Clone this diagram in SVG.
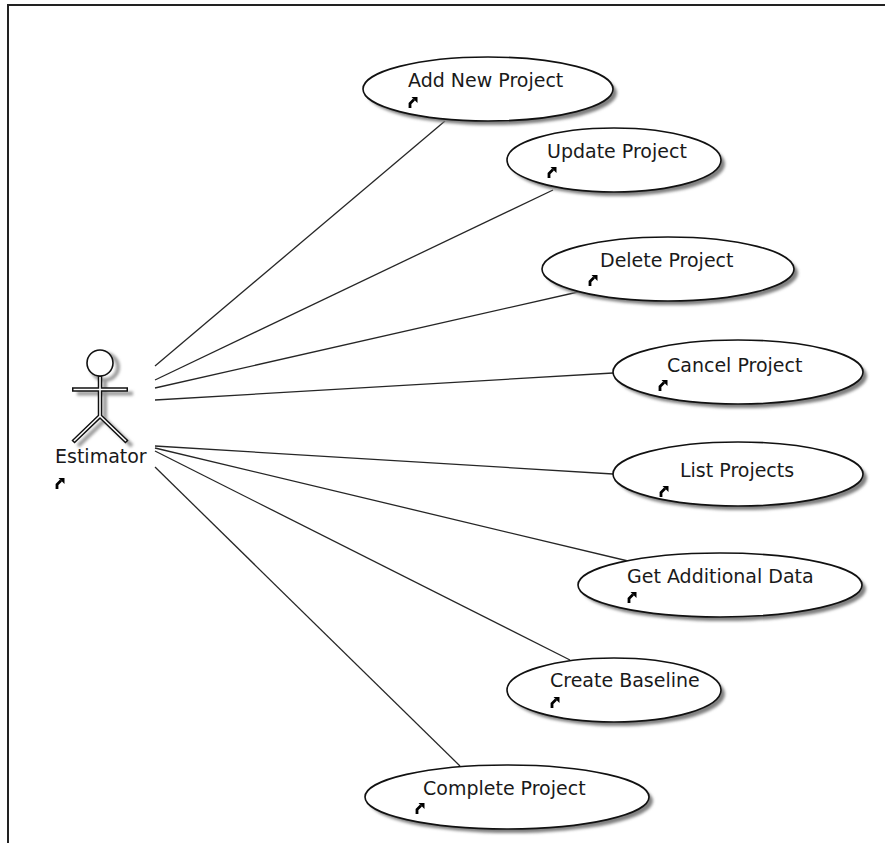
<svg xmlns="http://www.w3.org/2000/svg" width="885" height="843" viewBox="0 0 885 843">
<style>
.uc{fill:#fff;stroke:#111;stroke-width:1.6}
.sh{fill:#808080;filter:url(#blur)}
.lbl{font-family:"DejaVu Sans",sans-serif;font-size:19px;fill:#1a1a1a}
.conn line{stroke:#262626;stroke-width:1.3}
.dark{fill:none;stroke:#111;stroke-width:4.5;stroke-linecap:butt}
.core{fill:none;stroke:#fff;stroke-width:1.6}
</style>
<defs>
<filter id="blur" x="-10%" y="-20%" width="120%" height="140%"><feGaussianBlur stdDeviation="1.6"/></filter>
<g id="ico"><path d="M2 11 V6.5 L6 2.5" fill="none" stroke="#000" stroke-width="2.8"/><polygon points="3.5,0 9.5,0 9.5,6" fill="#000"/></g>
</defs>
<rect width="885" height="843" fill="#fff"/>
<g id="frame" stroke="#222" stroke-width="2"><line x1="8" y1="5" x2="885" y2="5"/><line x1="8" y1="4" x2="8" y2="843"/></g>
<g class="conn" id="connectors">
<line x1="155" y1="366" x2="445" y2="121"/>
<line x1="155" y1="380" x2="553" y2="190"/>
<line x1="155" y1="388" x2="578" y2="292"/>
<line x1="155" y1="400" x2="613" y2="373"/>
<line x1="155" y1="446" x2="613" y2="474"/>
<line x1="155" y1="448" x2="628" y2="561"/>
<line x1="155" y1="451" x2="570" y2="660"/>
<line x1="155" y1="467" x2="460" y2="766"/>
</g>
<g id="actor">
<g transform="translate(5,4)" filter="url(#blur)" stroke="#999" fill="none" stroke-width="4">
<circle cx="100" cy="363" r="13"/><path d="M72 389.5 H128 M100 376 V416 L73 442 M100 416 L127 442"/>
</g>
<circle cx="100" cy="363" r="13" fill="#fff" stroke="#111" stroke-width="1.6"/>
<path class="dark" d="M72 389.5 H128 M100 376 V416 L73 442 M100 416 L127 442"/>
<path class="core" d="M73.5 389.5 H126.5 M100 377 V416 L74 441 M100 416 L126 441"/>
<text class="lbl" x="55" y="463">Estimator</text>
<use href="#ico" x="55" y="478"/>
</g>
<g id="uc1"><ellipse class="sh" cx="492" cy="93" rx="125" ry="32"/><ellipse class="uc" cx="488" cy="89" rx="125" ry="32"/><text class="lbl" x="408" y="87">Add New Project</text><use href="#ico" x="408" y="97"/></g>
<g id="uc2"><ellipse class="sh" cx="618" cy="164" rx="107" ry="32"/><ellipse class="uc" cx="614" cy="160" rx="107" ry="32"/><text class="lbl" x="547" y="158">Update Project</text><use href="#ico" x="547" y="167"/></g>
<g id="uc3"><ellipse class="sh" cx="672" cy="273" rx="126" ry="32"/><ellipse class="uc" cx="668" cy="269" rx="126" ry="32"/><text class="lbl" x="600" y="267">Delete Project</text><use href="#ico" x="588" y="275"/></g>
<g id="uc4"><ellipse class="sh" cx="742" cy="376" rx="125" ry="32"/><ellipse class="uc" cx="738" cy="372" rx="125" ry="32"/><text class="lbl" x="667" y="372">Cancel Project</text><use href="#ico" x="658" y="380"/></g>
<g id="uc5"><ellipse class="sh" cx="742" cy="478" rx="125" ry="32"/><ellipse class="uc" cx="738" cy="474" rx="125" ry="32"/><text class="lbl" x="680" y="477">List Projects</text><use href="#ico" x="659" y="486"/></g>
<g id="uc6"><ellipse class="sh" cx="724" cy="589" rx="142" ry="32"/><ellipse class="uc" cx="720" cy="585" rx="142" ry="32"/><text class="lbl" x="627" y="583">Get Additional Data</text><use href="#ico" x="627" y="592"/></g>
<g id="uc7"><ellipse class="sh" cx="618" cy="694" rx="107" ry="32"/><ellipse class="uc" cx="614" cy="690" rx="107" ry="32"/><text class="lbl" x="550" y="687">Create Baseline</text><use href="#ico" x="550" y="697"/></g>
<g id="uc8"><ellipse class="sh" cx="511" cy="801" rx="142" ry="32"/><ellipse class="uc" cx="507" cy="797" rx="142" ry="32"/><text class="lbl" x="423" y="795">Complete Project</text><use href="#ico" x="415" y="803"/></g>
</svg>
